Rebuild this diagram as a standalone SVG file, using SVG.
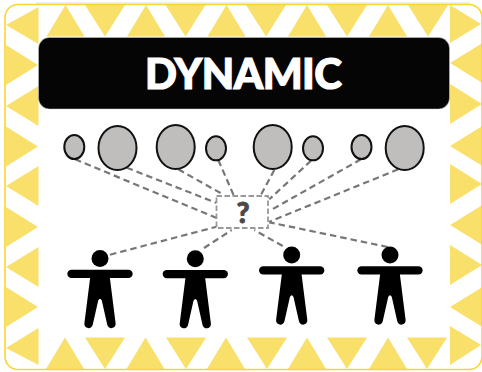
<svg xmlns="http://www.w3.org/2000/svg" xmlns:xlink="http://www.w3.org/1999/xlink" width="482" height="372" viewBox="0 0 482 372">
<style>
.t{fill:#F9E06B}
.c{fill:#C0BDBD;stroke:#111;stroke-width:2}
.l{stroke:#777;stroke-width:2.2;stroke-dasharray:6.5 4;fill:none}
.b{fill:#fff;stroke:#999;stroke-width:1.8;stroke-dasharray:5.5 2.5}
</style>
<defs>
<g id="person">
<circle cx="0" cy="0" r="8.5" fill="#000"/>
<path d="M-28.5 15.4H28.5" stroke="#000" stroke-width="8.3" stroke-linecap="round" fill="none"/>
<path d="M-9.7 18 L-15.6 64.8 A4.2 4.2 0 0 0 -7.2 66 L-1.8 42 Q0 38.5 1.8 42 L7.2 66 A4.2 4.2 0 0 0 15.6 64.8 L9.7 18Z" fill="#000"/>
</g>
<polygon id="u" points="0,0 19,31.5 -19,31.5"/>
<polygon id="d" points="0,31.5 -20,0 20,0"/>
<polygon id="l" points="0,0 32.5,-20 32.5,20"/>
<polygon id="r" points="32,0 0,-20 0,20"/>
</defs>
<rect x="0" y="0" width="482" height="372" fill="#fff"/>
<path d="M36 3H470" stroke="#ddd" stroke-width="1.2" fill="none"/>
<g id="pattern" class="t">
<use xlink:href="#u" x="65.5" y="5"/><use xlink:href="#d" x="105" y="5"/><use xlink:href="#u" x="146" y="5"/><use xlink:href="#d" x="185.5" y="5"/><use xlink:href="#u" x="226.5" y="5"/><use xlink:href="#d" x="266" y="5"/><use xlink:href="#u" x="307" y="5"/><use xlink:href="#d" x="347" y="5"/><use xlink:href="#u" x="388" y="5"/><use xlink:href="#d" x="428" y="5"/>
<use xlink:href="#u" x="65" y="337.5"/><use xlink:href="#d" x="105" y="337.5"/><use xlink:href="#u" x="145.5" y="337.5"/><use xlink:href="#d" x="186" y="337.5"/><use xlink:href="#u" x="226" y="337.5"/><use xlink:href="#d" x="267" y="337.5"/><use xlink:href="#u" x="307" y="337.5"/><use xlink:href="#d" x="347" y="337.5"/><use xlink:href="#u" x="388" y="337.5"/><use xlink:href="#d" x="427" y="337.5"/>
<polygon points="6,25 38.5,7 38.5,44"/><use xlink:href="#r" x="6" y="65"/><use xlink:href="#l" x="6" y="106"/><use xlink:href="#r" x="6" y="146.5"/><use xlink:href="#l" x="6" y="186"/><use xlink:href="#r" x="6" y="227"/><use xlink:href="#l" x="6" y="267"/><use xlink:href="#r" x="6" y="307"/><polygon points="6,348 38.5,328 38.5,365"/>
<polygon points="450,5 481,24 450,43"/><use xlink:href="#l" x="450" y="63"/><use xlink:href="#r" x="450" y="104"/><use xlink:href="#l" x="450" y="146"/><use xlink:href="#r" x="450" y="184"/><use xlink:href="#l" x="450" y="225"/><use xlink:href="#r" x="450" y="265"/><use xlink:href="#l" x="450" y="307"/><polygon points="450,326 481,345 450,365"/>
</g>
<rect id="frame" x="5" y="4.5" width="477" height="365" rx="13" fill="none" stroke="#FAD52E" stroke-width="1.6"/>
<g id="title">
<rect x="38.5" y="37.5" width="411" height="71.5" rx="11" fill="#050505" stroke="#ccc" stroke-width="0.5"/>
<text x="243.5" y="88.5" text-anchor="middle" textLength="197" lengthAdjust="spacing" font-family="Lato,'Open Sans','Liberation Sans',sans-serif" font-weight="900" font-size="42" fill="#fff" stroke="#fff" stroke-width="1.2">DYNAMIC</text>
</g>
<g id="connectors">
<path class="l" d="M75 159.3L216.7 218"/>
<path class="l" d="M126.7 167.7L216.7 203"/>
<path class="l" d="M178.3 169.3L224 195"/>
<path class="l" d="M218.3 160L234.3 196.7"/>
<path class="l" d="M274.3 170L260.3 196"/>
<path class="l" d="M311 160.7L269.3 199.3"/>
<path class="l" d="M361 159.3L271 210"/>
<path class="l" d="M398.3 169.3L269.3 221.7"/>
<path class="l" d="M110 254.7L216.7 226.7"/>
<path class="l" d="M204 248L231.7 230"/>
<path class="l" d="M282.7 246L254.3 230"/>
<path class="l" d="M387.7 247L269.3 222.3"/>
</g>
<g id="leaf1"><ellipse class="c" cx="74.3" cy="147" rx="10" ry="12"/></g>
<g id="leaf2"><ellipse class="c" cx="117.5" cy="148" rx="19" ry="22"/></g>
<g id="leaf3"><ellipse class="c" cx="175.7" cy="147" rx="19" ry="22"/></g>
<g id="leaf4"><ellipse class="c" cx="216" cy="148.3" rx="10" ry="12"/></g>
<g id="leaf5"><ellipse class="c" cx="272.7" cy="147" rx="19" ry="22"/></g>
<g id="leaf6"><ellipse class="c" cx="313" cy="148.3" rx="10" ry="12"/></g>
<g id="leaf7"><ellipse class="c" cx="361.5" cy="147" rx="10" ry="12"/></g>
<g id="leaf8"><ellipse class="c" cx="404.7" cy="148" rx="19" ry="22"/></g>
<g id="unknown">
<rect class="b" x="216.5" y="196" width="51.5" height="32"/>
<text x="243" y="223" text-anchor="middle" font-family="Lato,'Open Sans','Liberation Sans',sans-serif" font-weight="900" font-size="28" fill="#4a4a4a" stroke="#4a4a4a" stroke-width="0.9">?</text>
</g>
<g id="person1"><use xlink:href="#person" x="100" y="258.5"/></g>
<g id="person2"><use xlink:href="#person" x="195.3" y="258.7"/></g>
<g id="person3"><use xlink:href="#person" x="291.7" y="255"/></g>
<g id="person4"><use xlink:href="#person" x="390" y="255"/></g>
</svg>
